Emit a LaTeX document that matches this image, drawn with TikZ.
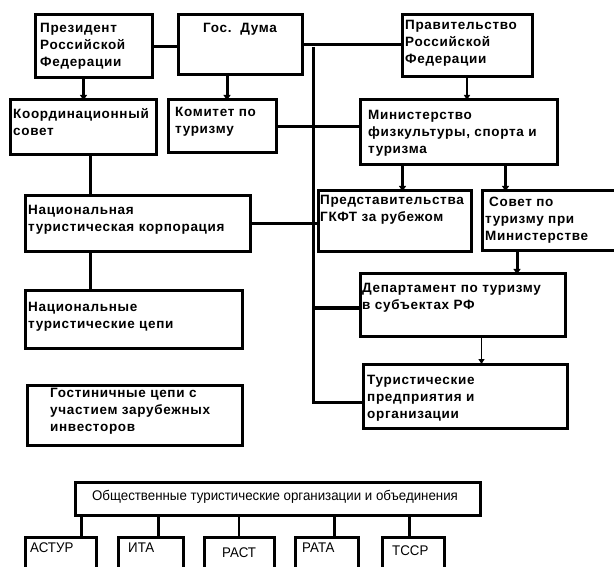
\documentclass[tikz,border=0pt]{standalone}
\usepackage{fontspec}
\setmainfont{Liberation Sans}
\usetikzlibrary{arrows.meta}
\newcommand\mybox[5]{\node[box, minimum width=#4pt-#2pt, minimum height=#5pt-#3pt, anchor=north west] (#1) at (#2,#3) {};}
\begin{document}
\begin{tikzpicture}[x=1pt,y=-1pt,
  box/.style={draw, line width=3pt, inner sep=0pt, outer sep=0pt},
  txt/.style={inner sep=0pt, align=left, anchor=north west, font=\fontsize{13.5}{17}\selectfont\bfseries\addfontfeature{LetterSpace=5}},
  stxt/.style={inner sep=0pt, align=left, anchor=north west, font=\fontsize{14}{17}\selectfont},
  ln/.style={line width=3pt},
  thin/.style={line width=1.6pt},
  arr/.style={line width=3pt, -{Triangle[length=5pt,width=7pt]}},
  tarr/.style={line width=1.6pt, -{Triangle[length=5pt,width=6pt]}}]
\useasboundingbox (0,0) rectangle (614,567);
\fill[white] (0,0) rectangle (614,567);
% boxes
\mybox{pres}{35}{15}{152}{78}
\mybox{duma}{178}{15}{302}{75}
\mybox{gov}{402}{15}{532}{77}
\mybox{coord}{10}{100}{156}{155}
\mybox{kom}{168}{100}{276}{153}
\mybox{min}{360}{100}{557}{165}
\mybox{pred}{318}{191}{471}{252}
\mybox{sov}{482}{191}{622}{251}
\mybox{dept}{360}{274}{565}{336}
\mybox{tour}{363}{364}{567}{428}
\mybox{korp}{25}{196}{250}{252}
\mybox{nat}{25}{291}{242}{348}
\mybox{gost}{27}{385}{242}{445}
\mybox{obsh}{75}{482}{480}{515}
\mybox{astur}{25}{537}{96}{582}
\mybox{ita}{118}{537}{183}{582}
\mybox{rast}{204}{537}{274}{582}
\mybox{rata}{295}{537}{358}{582}
\mybox{tssr}{382}{537}{444}{582}
% texts
\node[txt] (t-pres) at (40,23) {Президент\\Российской\\Федерации};
\node[txt] (t-duma) at (203,23) {Гос.\ \ Дума};
\node[txt] (t-gov) at (405,20) {Правительство\\Российской\\Федерации};
\node[txt] (t-coord) at (13,108) {Координационный\\совет};
\node[txt] (t-kom) at (175,107) {Комитет по\\туризму};
\node[txt] (t-min) at (368,110) {Министерство\\физкультуры, спорта и\\туризма};
\node[txt] (t-pred) at (320,195) {Представительства\\ГКФТ за рубежом};
\node[txt] (t-sov) at (485,197) {\hspace{4pt}Совет по\\туризму при\\Министерстве};
\node[txt] (t-dept) at (362,283) {Департамент по туризму\\в субъектах РФ};
\node[txt] (t-tour) at (367,375) {Туристические\\предприятия и\\организации};
\node[txt] (t-korp) at (28,205) {Национальная\\туристическая корпорация};
\node[txt] (t-nat) at (28,302) {Национальные\\туристические цепи};
\node[txt] (t-gost) at (50,388) {Гостиничные цепи с\\участием зарубежных\\инвесторов};
\node[stxt, anchor=north] (t-obsh) at (275,490) {\scalebox{0.95}[1]{Общественные туристические организации и объединения}};
\node[stxt] (t-astur) at (30,543) {\scalebox{0.95}[1]{АСТУР}};
\node[stxt] (t-ita) at (128,543) {\scalebox{0.95}[1]{ИТА}};
\node[stxt] (t-rast) at (222,548) {\scalebox{0.95}[1]{РАСТ}};
\node[stxt] (t-rata) at (302,543) {\scalebox{0.95}[1]{РАТА}};
\node[stxt] (t-tssr) at (392,546) {\scalebox{0.95}[1]{ТССР}};
% spine
\coordinate (sp1) at (313,47);
\coordinate (sp2) at (313,402);
\draw[ln] (pres.east) -- (pres.east -| duma.west);
\draw[ln] (duma.east) -- (duma.east -| gov.west);
\draw[ln] (sp1) -- (sp2) -- (sp2 -| tour.west);
\draw[ln] (kom.east) -- (kom.east -| min.west);
\draw[ln] (korp.east) -- (korp.east -| pred.west);
\draw[ln] ([yshift=-3pt]dept.west -| sp1) -- ([yshift=-3pt]dept.west);
% arrows
\draw[arr] ([xshift=-10pt]pres.south) -- ([xshift=-10pt]pres.south |- coord.north);
\draw[arr] ([xshift=-13pt]duma.south) -- ([xshift=-13pt]duma.south |- kom.north);
\draw[tarr] (gov.south) -- (gov.south |- min.north);
\draw[arr] ([xshift=-56pt]min.south) -- ([xshift=-56pt]min.south |- pred.north);
\draw[arr] ([xshift=47pt]min.south) -- ([xshift=47pt]min.south |- sov.north);
\draw[arr] ([xshift=35pt]sov.south west) -- ([xshift=35pt]sov.south west |- dept.north);
\draw[tarr] ([xshift=19pt]dept.south) -- ([xshift=19pt]dept.south |- tour.north);
% left column
\draw[ln] ([xshift=80pt]coord.south west) -- ([xshift=80pt]coord.south west |- korp.north);
\draw[ln] ([xshift=65pt]korp.south west) -- ([xshift=65pt]korp.south west |- nat.north);
% bottom
\draw[ln] ([xshift=21pt]astur.north) -- ([xshift=21pt]astur.north |- obsh.south);
\draw[ln] ([xshift=8pt]ita.north) -- ([xshift=8pt]ita.north |- obsh.south);
\draw[thin] (rast.north) -- (rast.north |- obsh.south);
\draw[ln] ([xshift=8pt]rata.north) -- ([xshift=8pt]rata.north |- obsh.south);
\draw[ln] ([xshift=-4pt]tssr.north) -- ([xshift=-4pt]tssr.north |- obsh.south);
\end{tikzpicture}
\end{document}
